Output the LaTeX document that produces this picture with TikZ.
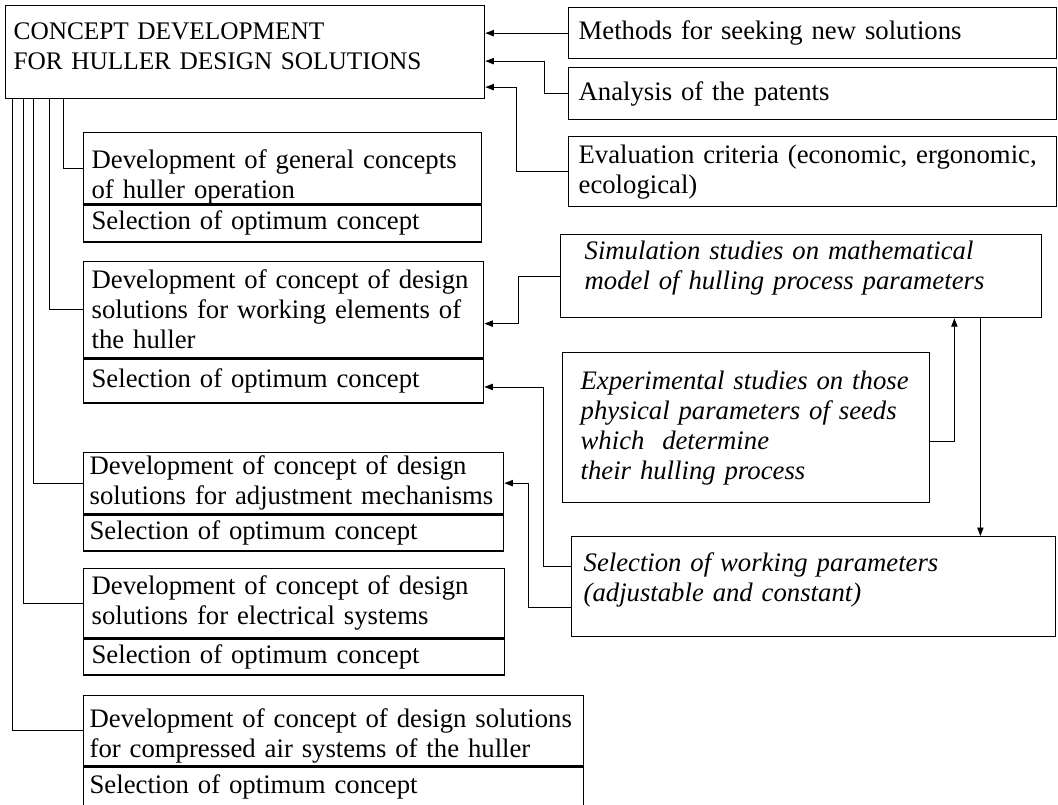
\documentclass[tikz,border=0pt]{standalone}
\usepackage{fontspec}
\setmainfont{Liberation Serif}
\usetikzlibrary{positioning,arrows.meta,calc}
\tikzset{
  blk/.style={draw,line width=0.9pt,anchor=north west,align=left,inner xsep=0.2cm,inner ysep=0pt,
    font=\fontsize{19}{21.3}\selectfont},
  rblk/.style={blk,inner xsep=0.25cm},
  itblk/.style={blk,font=\fontsize{19}{21.3}\selectfont\itshape},
  pad/.style 2 args={text height=#1,text depth=#2},
  link/.style={line width=0.6pt},
  arr/.style={line width=0.6pt,-{Triangle[length=6pt,width=4.5pt]}}
}
\begin{document}
\begin{tikzpicture}[x=0.025cm,y=-0.025cm]
\clip (0,0) rectangle (1058,804);
% main box and its sources
\node[blk,font=\fontsize{18}{21.3}\selectfont,text width=11.575cm,pad={0.85cm}{1.475cm}] (main) at (5,5) {CONCEPT DEVELOPMENT\\FOR HULLER DESIGN SOLUTIONS};
\node[rblk,text width=11.7cm,minimum height=1.275cm] (meth) at (568,7) {Methods for seeking new solutions};
\node[rblk,text width=11.7cm,minimum height=1.3cm] (pat) at (568,67) {Analysis of the patents};
\node[rblk,text width=11.7cm,minimum height=1.75cm] (crit) at (568,136) {Evaluation criteria (economic, ergonomic,\\ecological)};
% concept boxes on the left
\node[blk,text width=9.55cm,pad={0.9cm}{0.875cm}] (gen) at (83,132) {Development of general concepts\\of huller operation};
\node[blk,text width=9.55cm,minimum height=0.925cm,below=0pt of gen] (gensel) {Selection of optimum concept};
\node[blk,text width=9.6cm,minimum height=2.4cm] (work) at (83,261) {Development of concept of design\\solutions for working elements of\\the huller};
\node[blk,text width=9.6cm,minimum height=1.1cm,below=0pt of work] (worksel) {Selection of optimum concept};
\node[blk,inner xsep=0.15cm,text width=10.2cm,minimum height=1.525cm] (adj) at (83,452) {Development of concept of design\\solutions for adjustment mechanisms};
\node[blk,inner xsep=0.15cm,text width=10.2cm,minimum height=0.9cm,below=0pt of adj] (adjsel) {Selection of optimum concept};
\node[blk,text width=10.125cm,minimum height=1.725cm] (elec) at (83,568) {Development of concept of design\\solutions for electrical systems};
\node[blk,text width=10.125cm,minimum height=0.9cm,below=0pt of elec] (elecsel) {Selection of optimum concept};
\node[blk,inner xsep=0.15cm,text width=12.2cm,pad={0.8cm}{0.95cm}] (air) at (83,695) {Development of concept of design solutions\\for compressed air systems of the huller};
\node[blk,inner xsep=0.15cm,text width=12.2cm,minimum height=1.0cm,below=0pt of air] (airsel) {Selection of optimum concept};
% studies on the right
\node[itblk,inner xsep=0.6cm,text width=10.825cm,pad={0.625cm}{1.45cm}] (sim) at (560,234) {Simulation studies on mathematical\\model of hulling process parameters};
\node[itblk,inner xsep=0.45cm,text width=8.275cm,minimum height=3.75cm] (expt) at (562,352) {Experimental studies on those\\physical parameters of seeds\\which~ determine\\their hulling process};
\node[itblk,inner xsep=0.3cm,text width=11.5cm,pad={0.875cm}{1.625cm}] (sel) at (571,536) {Selection of working parameters\\(adjustable and constant)};
% connectors
\foreach \dx/\tn in {7/air,18/elec,28/adj,44/work,58/gen}
  \draw[link] ($(main.south west)+(\dx,0)$) |- (\tn.west);
\draw[arr] (meth.west) -- (meth.west -| main.east);
\draw[arr] (pat.west) -- ++(-24,0) |- ($(main.east)+(0,9)$);
\draw[arr] (crit.west) -- ++(-52,0) |- ($(main.east)+(0,35)$);
\draw[arr] (sim.west) -- ++(-42,0) |- ($(work.east)+(0,14)$);
\draw[arr] ($(expt.east)+(0,14)$) -| ($(sim.south east)+(-88,0)$);
\coordinate (drop) at ($(sim.south east)+(-62,0)$);
\draw[arr] (drop) -- (drop |- sel.north);
\draw[arr] ($(sel.west)+(0,-20)$) -- ++(-28,0) |- ($(worksel.east)+(0,6)$);
\draw[arr] ($(sel.west)+(0,21)$) -- ++(-43,0) |- (adj.east);
\end{tikzpicture}
\end{document}
